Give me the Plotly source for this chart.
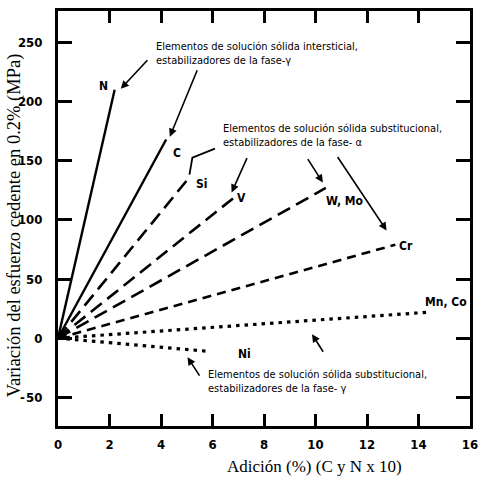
import plotly.graph_objects as go

# Data: each series is a straight line from the origin to an end point
series_names = ["N", "C", "Si", "V", "W, Mo", "Cr", "Mn, Co", "Ni"]
end_x = [2.2, 4.2, 5.1, 6.9, 10.4, 13.1, 14.4, 5.8]
end_y = [210, 168, 136, 120, 127, 79, 22, -11]
x_ticks = [0, 2, 4, 6, 8, 10, 12, 14, 16]
y_ticks = [-50, 0, 50, 100, 150, 200, 250]
y_tick_text = ["-\u200a50", "0", "50", "100", "150", "200", "250"]

dashes = ["solid", "solid", "14px,7px", "14px,7px", "14px,7px", "9px,6px", "3.5px,5px", "3.5px,5px"]
widths = [2.4, 2.4, 2.6, 2.6, 2.6, 2.6, 3.2, 3.2]

# pixel layout
L, R, T, B = 58, 478, 10, 426
X0, X1 = 0, 16
PXU = (R - L) / (X1 - X0)
Y0PIX = 338
PYU = 1.1857
Ytop = (Y0PIX - T) / PYU
Ybot = -(B - Y0PIX) / PYU


def dx(px):
    return (px - L) / PXU


def dy(py):
    return (Y0PIX - py) / PYU


fig = go.Figure()
for name, xe, ye, d, w in zip(series_names, end_x, end_y, dashes, widths):
    fig.add_trace(go.Scatter(x=[0, xe], y=[0, ye], mode="lines", name=name,
                             line=dict(color="black", width=w, dash=d),
                             showlegend=False, hoverinfo="skip"))

narrow = "DejaVu Sans Condensed, Liberation Sans Narrow, Arial Narrow, sans-serif"
serif = "Liberation Serif, Times New Roman, serif"

ann = []
# element labels
label_pos = {"N": (104, 85), "C": (179, 152), "Si": (204, 183), "V": (245, 197),
             "W, Mo": (350, 200), "Cr": (413, 246), "Mn, Co": (454, 302), "Ni": (248, 354)}
for name in series_names:
    px, py = label_pos[name]
    ann.append(dict(x=dx(px), y=dy(py), text=name, showarrow=False,
                    font=dict(family=narrow, size=12, color="black", weight="bold"),
                    xanchor="center", yanchor="middle"))

# explanatory texts
texts = [
    ("Elementos de solución sólida intersticial,<br>estabilizadores de la fase-γ", 156, 53),
    ("Elementos de solución sólida substitucional,<br>estabilizadores de la fase- α", 224, 135),
    ("Elementos de solución sólida substitucional,<br>estabilizadores de la fase- γ", 209, 381),
]
for t, px, py in texts:
    ann.append(dict(x=dx(px), y=dy(py), text=t, showarrow=False, align="left",
                    font=dict(family=narrow, size=11, color="black"),
                    xanchor="left", yanchor="middle"))

# arrows: (tail px, tail py, head px, head py)
arrows = [(150, 58, 122, 88), (200, 68, 172, 136), (251, 156, 235, 192),
          (312, 157, 328, 182), (343, 155, 393, 230), (329, 353, 317, 334),
          (203, 377, 190, 357)]
for tx, ty, hx, hy in arrows:
    ann.append(dict(x=dx(hx), y=dy(hy), ax=tx - hx, ay=ty - hy, text="",
                    showarrow=True, arrowhead=2, arrowsize=1, arrowwidth=1.6,
                    arrowcolor="black"))

# axis titles
ann.append(dict(xref="paper", yref="paper", x=(319 - L) / (R - L), y=(B - 467) / (B - T),
                text="Adición (%) (C y N x 10)", showarrow=False,
                font=dict(family=serif, size=17, color="black"),
                xanchor="center", yanchor="middle"))
ann.append(dict(xref="paper", yref="paper", x=(14 - L) / (R - L), y=(B - 225) / (B - T),
                text="Variación del esfuerzo cedente en 0.2% (MPa)", showarrow=False,
                textangle=-90, font=dict(family=serif, size=18.5, color="black"),
                xanchor="center", yanchor="middle"))

shapes = [dict(type="path",
               path=f"M {dx(218)},{dy(148)} L {dx(195)},{dy(157)} L {dx(192)},{dy(174)}",
               line=dict(color="black", width=1.8))]

fig.update_layout(
    width=486, height=480,
    margin=dict(l=L, r=486 - R, t=T, b=480 - B),
    paper_bgcolor="white", plot_bgcolor="white",
    annotations=ann, shapes=shapes,
    xaxis=dict(range=[X0, X1], tickvals=x_ticks, ticks="inside", ticklen=12, tickwidth=3,
               tickcolor="black", showline=True, linewidth=3, linecolor="black",
               mirror="ticks", showgrid=False, zeroline=False,
               tickfont=dict(family=narrow, size=13, color="black", weight="bold"),
               ticklabelstandoff=4),
    yaxis=dict(range=[Ybot, Ytop], tickvals=y_ticks, ticktext=y_tick_text, ticks="inside",
               ticklen=14, tickwidth=3, tickcolor="black", showline=True, linewidth=3,
               linecolor="black", mirror="ticks", showgrid=False, zeroline=False,
               tickfont=dict(family=narrow, size=13, color="black", weight="bold"),
               ticklabelstandoff=10),
)

fig.write_html("out.html")
